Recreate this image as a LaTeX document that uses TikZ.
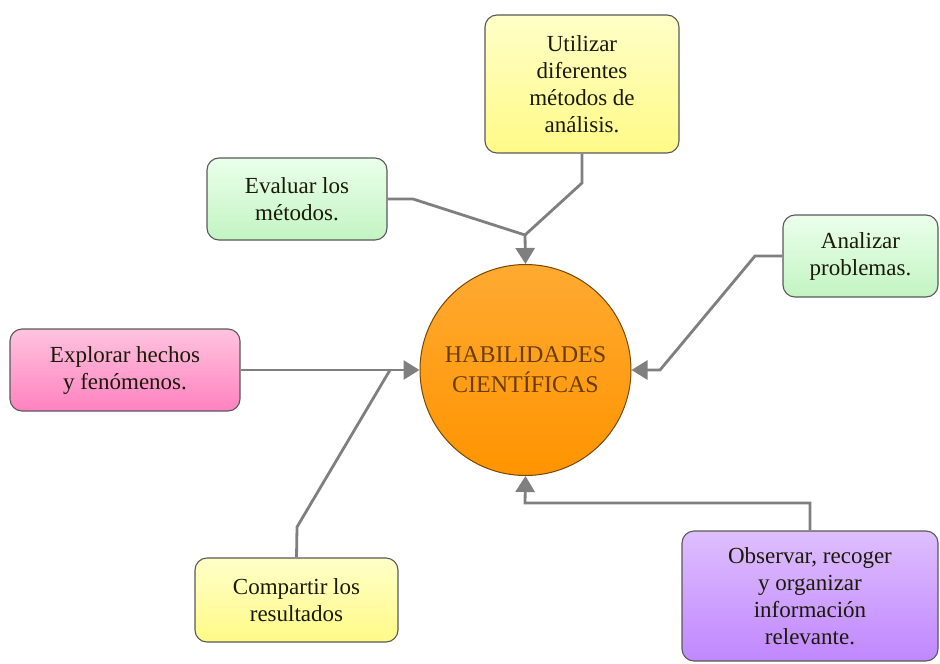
\documentclass[tikz,border=0pt]{standalone}
\usepackage{fontspec}
\setmainfont{Liberation Serif}
\usetikzlibrary{arrows.meta}
\definecolor{txt}{HTML}{1A1A08}
\definecolor{con}{HTML}{7F7F7F}
\tikzset{
  box/.style={draw=black!65, line width=1.1pt, rounded corners=12pt, align=center,
    text=txt, font=\fontsize{23}{27}\selectfont, inner sep=0pt},
  greenbox/.style={box, top color=green!8!white, bottom color={rgb,255:red,195;green,244;blue,195}},
  yellowbox/.style={box, top color={rgb,255:red,255;green,255;blue,200}, bottom color={rgb,255:red,255;green,250;blue,135}},
  pinkbox/.style={box, top color={rgb,255:red,255;green,195;blue,222}, bottom color={rgb,255:red,255;green,130;blue,192}},
  purplebox/.style={box, top color={rgb,255:red,222;green,190;blue,255}, bottom color={rgb,255:red,192;green,135;blue,255}},
  hub/.style={circle, draw={rgb,255:red,120;green,70;blue,0}, line width=1pt, align=center,
    top color={rgb,255:red,255;green,170;blue,50}, bottom color={rgb,255:red,255;green,148;blue,0},
    text={rgb,255:red,105;green,60;blue,0}, font=\fontsize{24}{30}\selectfont, inner sep=0pt},
  link/.style={draw=con, line width=2.8pt},
  arr/.style={link, -{Triangle[length=16pt,width=19pt]}},
}
\begin{document}
\begin{tikzpicture}[x=1pt,y=-1pt]
\useasboundingbox (0,0) rectangle (940,664);
\node[hub, minimum size=211pt] (hab) at (525.5,370) {HABILIDADES\\CIENTÍFICAS};
\node[yellowbox, minimum width=194pt, minimum height=138pt] (uti) at (582,84) {Utilizar\\diferentes\\métodos de\\análisis.};
\node[greenbox, minimum width=180pt, minimum height=82pt] (eva) at (297,199) {Evaluar los\\métodos.};
\node[greenbox, minimum width=155pt, minimum height=82pt] (ana) at (860.5,256) {Analizar\\problemas.};
\node[pinkbox, minimum width=230pt, minimum height=82pt] (exp) at (125,370) {Explorar hechos\\y fenómenos.};
\node[yellowbox, minimum width=203pt, minimum height=84pt] (com) at (296.5,600) {Compartir los\\resultados};
\node[purplebox, minimum width=256pt, minimum height=130pt] (obs) at (810,596) {Observar, recoger\\y organizar\\información\\relevante.};
% bend points
\coordinate (j1) at (525,235);
\coordinate (u1) at (582,183);
\coordinate (e1) at (413,199);
\coordinate (a1) at (755,256);
\coordinate (a2) at (660,370);
\coordinate (c1) at (297,527);
\coordinate (c2) at (390,370);
\coordinate (o1) at (810,503);
\coordinate (o2) at (525,503);
% connectors
\draw[link] (uti.south) -- (u1) -- (j1);
\draw[link] (eva.east) -- (e1) -- (j1);
\draw[arr] (j1) -- (hab.north);
\draw[arr] (ana.west) -- (a1) -- (a2) -- (hab.east);
\draw[arr] (exp.east) -- (hab.west);
\draw[link] (com.north) -- (c1) -- (c2);
\draw[arr] (obs.north) -- (o1) -- (o2) -- (hab.south);
\end{tikzpicture}
\end{document}
